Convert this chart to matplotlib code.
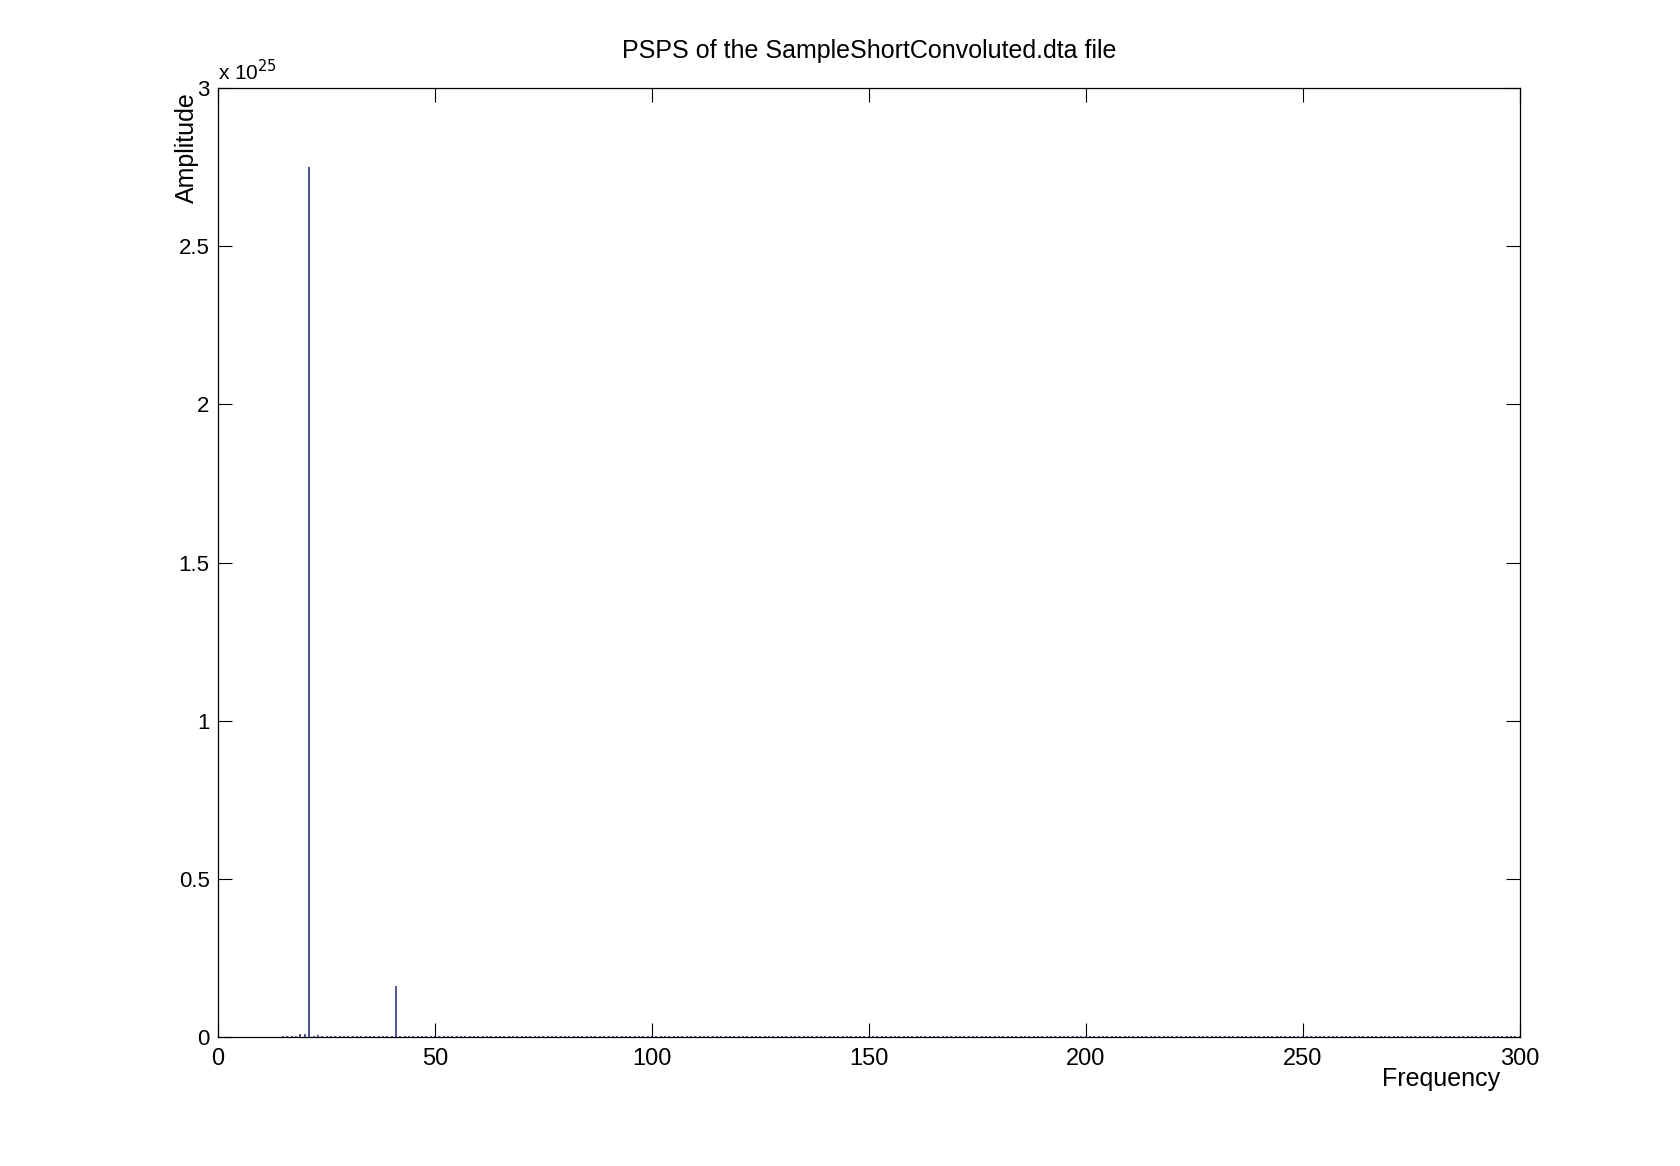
import numpy as np
from matplotlib import pyplot as plt

plt.rcParams['font.family'] = ['Liberation Sans', 'DejaVu Sans']

# frequencies of the spectrum (x axis)
freq = list(range(15, 301))
# noise floor, in units of 1e25
floor_level = 0.004
amplitude = [floor_level] * len(freq)
# the visible peaks
peak_freq = [19, 20, 21, 23, 41]
peak_amp = [0.011, 0.010, 2.75, 0.007, 0.16]
for f, a in zip(peak_freq, peak_amp):
    amplitude[freq.index(f)] = a

x_ticks = [0, 50, 100, 150, 200, 250, 300]
y_ticks = [0, 0.5, 1, 1.5, 2, 2.5, 3]
y_tick_labels = ['0', '0.5', '1', '1.5', '2', '2.5', '3']

fig = plt.figure(figsize=(16.8, 11.66), dpi=100)
ax = fig.add_axes([0.1298, 0.1106, 0.7747, 0.8139])

ax.vlines(freq, 0, amplitude, color='#22227a', linewidth=1.1)

ax.set_xlim(0, 300)
ax.set_ylim(0, 3)
ax.set_xticks(x_ticks)
ax.set_yticks(y_ticks)
ax.set_yticklabels(y_tick_labels)
ax.tick_params(direction='in', length=10, width=0.8, labelsize=17,
               top=True, right=True)
ax.tick_params(axis='x', pad=8)
ax.tick_params(axis='y', pad=6, labelsize=16)
for s in ax.spines.values():
    s.set_linewidth(0.9)

fig.text(0.5175, 0.956, 'PSPS of the SampleShortConvoluted.dta file',
         ha='center', va='center', fontsize=18)
fig.text(0.858, 0.075, 'Frequency', ha='center', va='center', fontsize=18)
fig.text(0.1115, 0.873, 'Amplitude', ha='center', va='center',
         rotation=90, fontsize=18)
fig.text(0.1298, 0.939, r'x 10$^{25}$', ha='left', va='center', fontsize=15)

plt.savefig('out.png')
